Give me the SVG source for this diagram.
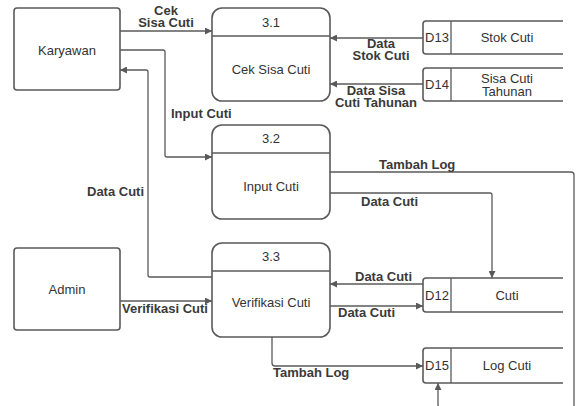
<svg xmlns="http://www.w3.org/2000/svg" width="576" height="406" viewBox="0 0 576 406">
<style>
.box{fill:#fff;stroke:#5a5a5a;stroke-width:1.6}
.ln{fill:none;stroke:#5a5a5a;stroke-width:1.3}
.t{font-family:"Liberation Sans",Arial,sans-serif;font-size:13px;fill:#333;text-anchor:middle}
.b{font-family:"Liberation Sans",Arial,sans-serif;font-size:13px;font-weight:bold;fill:#3a3a3a}
.c{text-anchor:middle}
</style>
<defs>
<marker id="ar" viewBox="0 0 10 10" refX="10" refY="5" markerWidth="9" markerHeight="7" markerUnits="userSpaceOnUse" orient="auto">
<path d="M0,0 L10,5 L0,10 z" fill="#5a5a5a"/>
</marker>
</defs>
<rect width="576" height="406" fill="#fff"/>
<g id="karyawan"><rect class="box" x="14" y="8" width="106" height="82" rx="3"/><text class="t" x="67" y="55">Karyawan</text></g>
<g id="admin"><rect class="box" x="14" y="248" width="106" height="82" rx="3"/><text class="t" x="67" y="294">Admin</text></g>
<g id="p31"><rect class="box" x="212" y="8" width="118" height="93" rx="10"/><line class="ln" x1="212" y1="36" x2="330" y2="36"/><text class="t" x="271" y="27">3.1</text><text class="t" x="271" y="74">Cek Sisa Cuti</text></g>
<g id="p32"><rect class="box" x="212" y="125" width="118" height="94" rx="10"/><line class="ln" x1="212" y1="153" x2="330" y2="153"/><text class="t" x="271" y="143">3.2</text><text class="t" x="271" y="191">Input Cuti</text></g>
<g id="p33"><rect class="box" x="212" y="243" width="118" height="94" rx="10"/><line class="ln" x1="212" y1="271" x2="330" y2="271"/><text class="t" x="271" y="261">3.3</text><text class="t" x="271" y="307">Verifikasi Cuti</text></g>
<g id="d13"><path class="box" d="M563,21 H426 Q423,21 423,24 V51 Q423,54 426,54 H563"/><line class="ln" x1="451" y1="21" x2="451" y2="54"/><text class="t" x="437" y="42">D13</text><text class="t" x="507" y="42">Stok Cuti</text></g>
<g id="d14"><path class="box" d="M563,68 H426 Q423,68 423,71 V98 Q423,101 426,101 H563"/><line class="ln" x1="451" y1="68" x2="451" y2="101"/><text class="t" x="437" y="89">D14</text><text class="t" x="507" y="83">Sisa Cuti</text><text class="t" x="507" y="96">Tahunan</text></g>
<g id="d12"><path class="box" d="M563,278 H426 Q423,278 423,281 V309 Q423,312 426,312 H563"/><line class="ln" x1="451" y1="278" x2="451" y2="312"/><text class="t" x="437" y="300">D12</text><text class="t" x="507" y="300">Cuti</text></g>
<g id="d15"><path class="box" d="M563,348 H426 Q423,348 423,351 V380 Q423,383 426,383 H563"/><line class="ln" x1="451" y1="348" x2="451" y2="383"/><text class="t" x="437" y="370">D15</text><text class="t" x="507" y="370">Log Cuti</text></g>
<g id="connectors">
<line class="ln" x1="120" y1="31" x2="212" y2="31" marker-end="url(#ar)"/>
<text class="b c" x="166" y="15">Cek</text><text class="b c" x="166" y="27">Sisa Cuti</text>
<path class="ln" d="M120,50 H163 Q165,50 165,52 V155 Q165,157 167,157 H212" marker-end="url(#ar)"/>
<text class="b" x="171" y="118">Input Cuti</text>
<path class="ln" d="M212,277 H150 Q148,277 148,275 V72 Q148,70 146,70 H120" marker-end="url(#ar)"/>
<text class="b" x="87" y="196">Data Cuti</text>
<line class="ln" x1="423" y1="38" x2="330" y2="38" marker-end="url(#ar)"/>
<text class="b c" x="381" y="48">Data</text><text class="b c" x="381" y="60">Stok Cuti</text>
<line class="ln" x1="423" y1="84" x2="330" y2="84" marker-end="url(#ar)"/>
<text class="b c" x="376" y="95">Data Sisa</text><text class="b c" x="376" y="107">Cuti Tahunan</text>
<path class="ln" d="M330,172 H571 Q574,172 574,175 V407 H440 Q438,407 438,405 V383" marker-end="url(#ar)"/>
<text class="b" x="379" y="169">Tambah Log</text>
<path class="ln" d="M330,193 H490 Q492,193 492,195 V278" marker-end="url(#ar)"/>
<text class="b" x="361" y="206">Data Cuti</text>
<line class="ln" x1="423" y1="284" x2="330" y2="284" marker-end="url(#ar)"/>
<text class="b" x="355" y="281">Data Cuti</text>
<line class="ln" x1="330" y1="306" x2="423" y2="306" marker-end="url(#ar)"/>
<text class="b" x="338" y="317">Data Cuti</text>
<line class="ln" x1="120" y1="301" x2="212" y2="301" marker-end="url(#ar)"/>
<text class="b" x="122" y="313">Verifikasi Cuti</text>
<path class="ln" d="M272,337 V363 Q272,366 275,366 H423" marker-end="url(#ar)"/>
<text class="b" x="273" y="377">Tambah Log</text>
</g>
</svg>
